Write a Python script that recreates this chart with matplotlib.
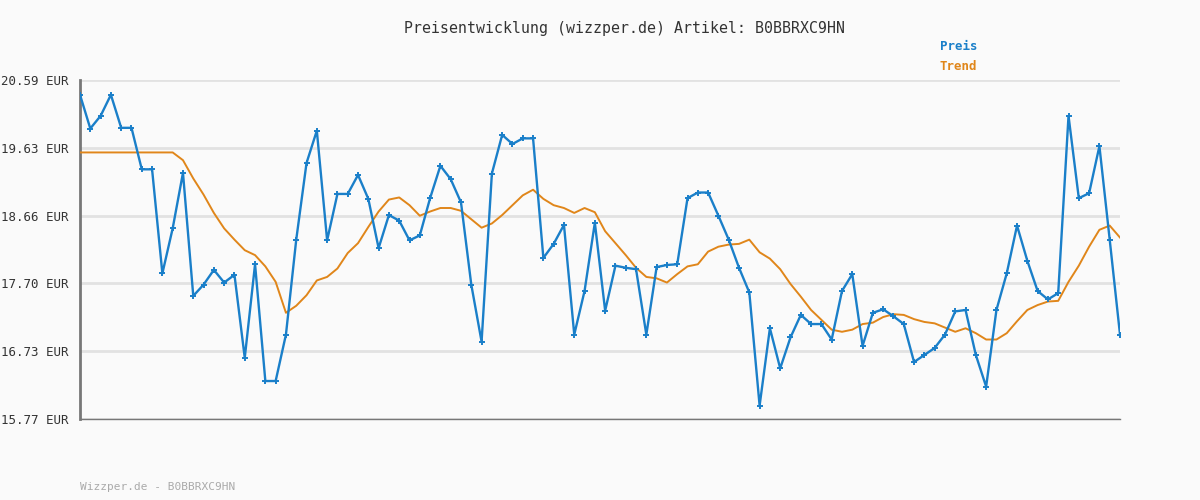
import matplotlib
matplotlib.use("Agg")
import matplotlib.pyplot as plt

preis = [20.38,19.90,20.08,20.38,19.91,19.91,19.32,19.32,17.84,18.48,
         19.27,17.52,17.68,17.89,17.71,17.82,16.64,17.97,16.31,16.31,
         16.97,18.32,19.41,19.87,18.31,18.97,18.97,19.24,18.90,18.20,
         18.67,18.59,18.31,18.38,18.91,19.37,19.18,18.85,17.68,16.87,
         19.26,19.81,19.68,19.76,19.76,18.06,18.26,18.53,16.97,17.59,
         18.56,17.31,17.95,17.92,17.90,16.97,17.93,17.96,17.97,18.91,
         18.99,18.99,18.66,18.32,17.92,17.57,15.96,17.06,16.49,16.93,
         17.25,17.12,17.12,16.90,17.59,17.83,16.81,17.28,17.33,17.23,
         17.12,16.58,16.68,16.78,16.97,17.30,17.32,16.68,16.23,17.32,
         17.84,18.52,18.02,17.59,17.47,17.56,20.08,18.91,18.98,19.65,
         18.32,16.97]
trend = [19.56]*10 + [19.45,19.19,18.96,18.70,18.48,18.32,18.17,18.10,17.94,17.72,
         17.28,17.38,17.53,17.74,17.79,17.91,18.13,18.27,18.50,18.72,
         18.89,18.92,18.81,18.66,18.72,18.77,18.77,18.73,18.61,18.49,
         18.55,18.67,18.81,18.95,19.03,18.90,18.81,18.77,18.70,18.77,
         18.71,18.44,18.27,18.10,17.92,17.79,17.77,17.71,17.83,17.94,
         17.97,18.15,18.22,18.25,18.26,18.32,18.14,18.05,17.90,17.69,
         17.51,17.32,17.18,17.04,17.01,17.04,17.12,17.14,17.22,17.26,
         17.25,17.19,17.15,17.13,17.07,17.01,17.06,16.99,16.90,16.90,
         16.99,17.16,17.32,17.39,17.44,17.45,17.72,17.95,18.22,18.46,
         18.52,18.35]
yticks = [15.77,16.73,17.70,18.66,19.63,20.59]
ylabels = ["15.77 EUR","16.73 EUR","17.70 EUR","18.66 EUR","19.63 EUR","20.59 EUR"]

mono = "DejaVu Sans Mono"
blue = "#1a7fc9"
orange = "#e0861a"
fig = plt.figure(figsize=(12,5), dpi=100, facecolor="#fafafa")
ax = fig.add_axes([80/1200, 1-419/500, 1040/1200, 339/500], facecolor="#fafafa")
x = list(range(len(preis)))
ax.plot(x, trend, color=orange, lw=1.4, zorder=3)
ax.plot(x, preis, color=blue, lw=1.7, marker="+", ms=4, mew=1.4, zorder=4)
ax.set_xlim(0, len(preis)-1)
ax.set_ylim(yticks[0], yticks[-1])
ax.set_yticks(yticks)
ax.set_yticklabels(ylabels, fontfamily=mono, fontsize=9, color="#333333")
ax.set_xticks([])
ax.tick_params(axis="y", length=0, pad=8)
ax.grid(axis="y", color="#e2e2e2", lw=2)
ax.set_axisbelow(True)
for s in ["top","right"]:
    ax.spines[s].set_visible(False)
ax.spines["left"].set_color("#777777")
ax.spines["left"].set_linewidth(2)
ax.spines["bottom"].set_color("#777777")
ax.spines["bottom"].set_linewidth(1)
fig.text(624/1200, 1-28/500, "Preisentwicklung (wizzper.de) Artikel: B0BBRXC9HN",
         ha="center", va="center", fontfamily=mono, fontsize=10.7, color="#333333")
fig.text(940/1200, 1-47/500, "Preis", ha="left", va="center", fontfamily=mono,
         fontsize=9, color=blue, fontweight="bold")
fig.text(940/1200, 1-67/500, "Trend", ha="left", va="center", fontfamily=mono,
         fontsize=9, color=orange, fontweight="bold")
fig.text(80/1200, 1-487/500, "Wizzper.de - B0BBRXC9HN", ha="left", va="center",
         fontfamily=mono, fontsize=8, color="#aaaaaa")
fig.savefig("out.png", dpi=100, facecolor=fig.get_facecolor())
